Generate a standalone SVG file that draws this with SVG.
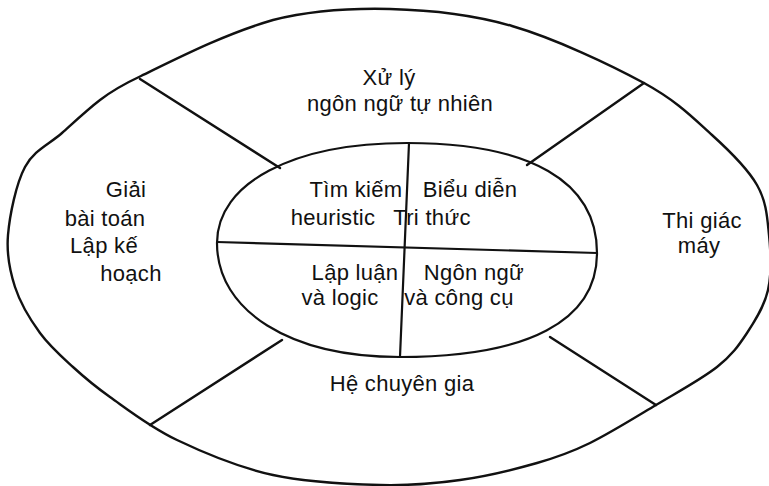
<svg xmlns="http://www.w3.org/2000/svg" width="769" height="486" viewBox="0 0 769 486">
<style>
.ln{fill:none;stroke:#111;stroke-width:2.4;stroke-linecap:round;stroke-linejoin:round}
.in{fill:none;stroke:#111;stroke-width:2.2;stroke-linecap:round}
text{font-family:"Liberation Sans",Arial,sans-serif;font-size:22px;fill:#111;text-anchor:middle;letter-spacing:0.3px}
</style>
<rect width="769" height="486" fill="#fff"/>
<g id="outer-ring">
<path class="ln" d="M390,9 C429.8,10 469.7,13.7 512,26 C554.3,38.3 610.7,64.8 644,83 C677.3,101.2 693.2,118 712,135 C730.8,152 747.5,168.3 757,185 C766.5,201.7 767.2,217.5 769,235 C770.8,252.5 771.7,273.7 768,290 C764.3,306.3 755.5,320.2 747,333 C738.5,345.8 732.2,355 717,367 C701.8,379 677.2,392.3 656,405 C634.8,417.7 609.8,433.3 590,443 C570.2,452.7 558.7,456.8 537,463 C515.3,469.2 486.2,476.3 460,480 C433.8,483.7 411.2,485.8 380,485 C348.8,484.2 306.8,482.5 273,475 C239.2,467.5 204.2,453 177,440 C149.8,427 127.3,409.2 110,397 C92.7,384.8 84.7,377.7 73,367 C61.3,356.3 49.7,346.3 40,333 C30.3,319.7 20.3,303.3 15,287 C9.7,270.7 6.3,255 8,235 C9.7,215 16,184 25,167 C34,150 49.5,144.2 62,133 C74.5,121.8 87,110 100,100 C113,90 126,83 141,76 C180,57 225,34 273,20 C313,10 350,8 390,9 Z"/>
</g>
<g id="inner-core">
<path class="in" d="M407,143 C530,143 597,181 597,253 C597,321 528,357 400,357 C290,357 217,311 217,243 C217,183 293,143 407,143 Z"/>
</g>
<g id="connectors">
<line class="ln" x1="140" y1="79" x2="280" y2="168"/>
<line class="ln" x1="644" y1="83" x2="527" y2="165"/>
<line class="ln" x1="150" y1="425" x2="282" y2="340"/>
<line class="ln" x1="656" y1="405" x2="550" y2="337"/>
<line class="in" x1="409" y1="143" x2="400" y2="357"/>
<line class="in" x1="217" y1="242" x2="597" y2="253"/>
</g>
<g id="nlp">
<text x="389" y="85">Xử lý</text>
<text x="400" y="111">ngôn ngữ tự nhiên</text>
</g>
<g id="planning">
<text x="126" y="197">Giải</text>
<text x="105" y="226">bài toán</text>
<text x="104" y="253">Lập kế</text>
<text x="131" y="281">hoạch</text>
</g>
<g id="vision">
<text x="702" y="228">Thi giác</text>
<text x="699" y="253">máy</text>
</g>
<g id="expert">
<text x="402" y="391">Hệ chuyên gia</text>
</g>
<g id="search">
<text x="356" y="197">Tìm kiếm</text>
<text x="333" y="225">heuristic</text>
</g>
<g id="knowledge">
<text x="470" y="197">Biểu diễn</text>
<text x="432" y="225">Tri thức</text>
</g>
<g id="reasoning">
<text x="355" y="280">Lập luận</text>
<text x="340" y="305">và logic</text>
</g>
<g id="languages">
<text x="474" y="280">Ngôn ngữ</text>
<text x="459" y="305">và công cụ</text>
</g>
</svg>
